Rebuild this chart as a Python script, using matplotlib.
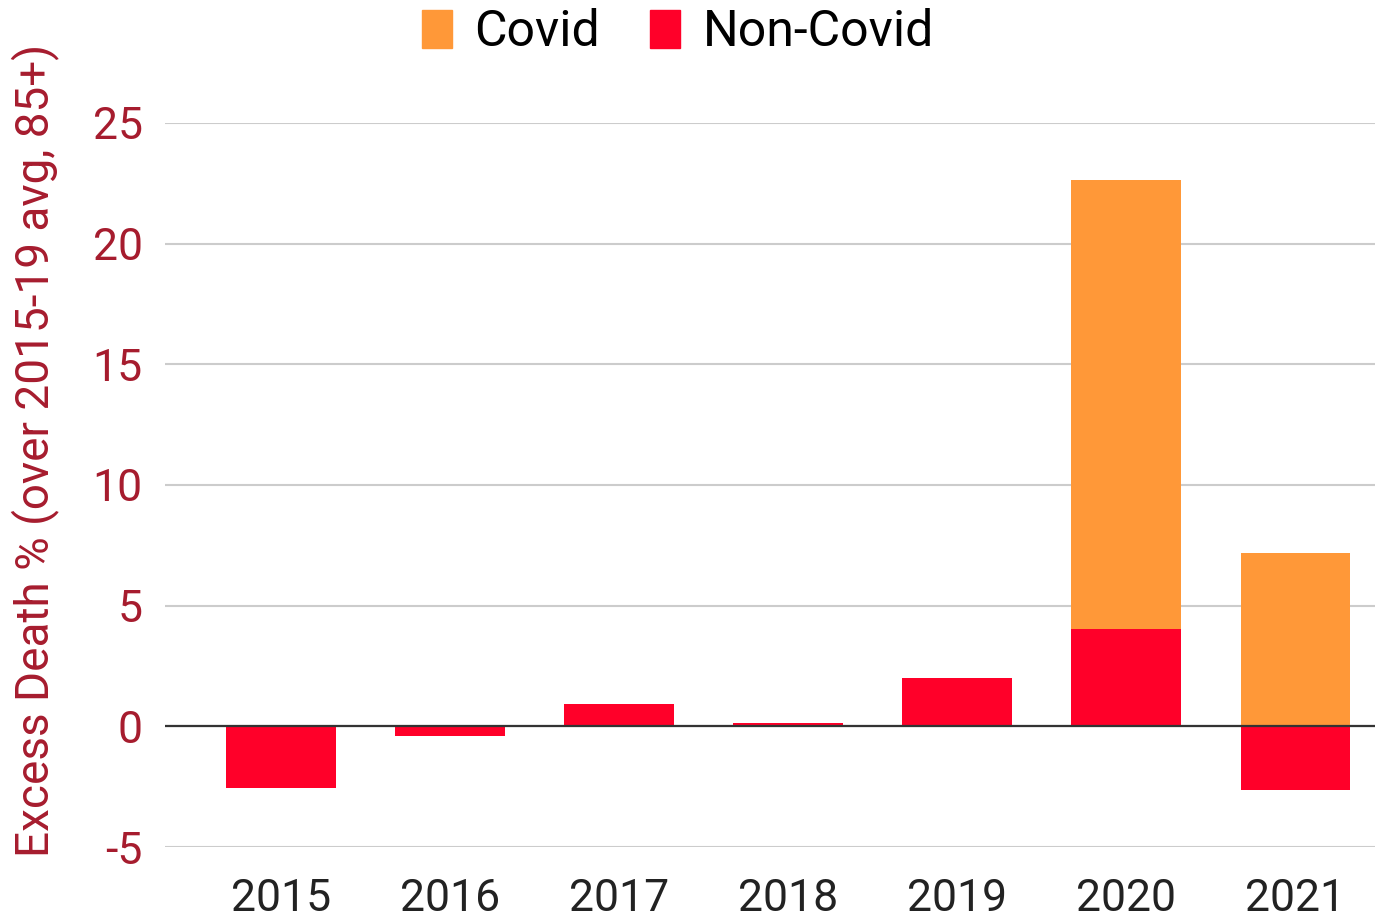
import numpy as np
import matplotlib.pyplot as plt
from matplotlib.patches import Patch

# Data
years = ["2015", "2016", "2017", "2018", "2019", "2020", "2021"]
non_covid = np.array([-2.55, -0.39, 0.91, 0.15, 2.0, 4.04, -2.64])
covid = np.array([0, 0, 0, 0, 0, 18.6, 7.17])
yticks = [-5, 0, 5, 10, 15, 20, 25]

orange = "#FF9838"
red = "#FF0029"
axis_red = "#A61C2E"

plt.rcParams['font.family'] = ['Roboto', 'DejaVu Sans']

fig = plt.figure(figsize=(13.75, 9.19), dpi=100)
ax = fig.add_axes([0.12, 0.0783, 0.88, 0.788])

x = np.arange(len(years))
w = 0.65
ax.bar(x, non_covid, width=w, color=red, zorder=3)
# covid stacks on top of the positive part of non-covid
base = np.clip(non_covid, 0, None)
ax.bar(x, covid, width=w, bottom=base, color=orange, zorder=3)

ax.set_xlim(-0.686, 6.47)
ax.set_ylim(-5, 25)
ax.set_yticks(yticks)
ax.set_yticklabels([str(t) for t in yticks], fontsize=32, color=axis_red)
ax.set_xticks(x)
ax.set_xticklabels(years, fontsize=32, color="#222222")
ax.tick_params(length=0)
ax.tick_params(axis="x", pad=22)
ax.tick_params(axis="y", pad=16)

ax.grid(axis="y", color="#CCCCCC", linewidth=1.5, zorder=0)
ax.axhline(0, color="#333333", linewidth=1.6, zorder=4)
for s in ax.spines.values():
    s.set_visible(False)

ax.set_ylabel("Excess Death % (over 2015-19 avg, 85+)", fontsize=33,
              color=axis_red)
ax.yaxis.set_label_coords(-0.088, 0.548)

handles = [Patch(color=orange, label="Covid"), Patch(color=red, label="Non-Covid")]
fig.legend(handles=handles, loc="center", bbox_to_anchor=(0.493, 0.965), ncol=2,
           frameon=False, fontsize=36, handlelength=0.6, handleheight=0.8,
           handletextpad=0.45, columnspacing=1.0)

fig.savefig("out.png", dpi=100)
